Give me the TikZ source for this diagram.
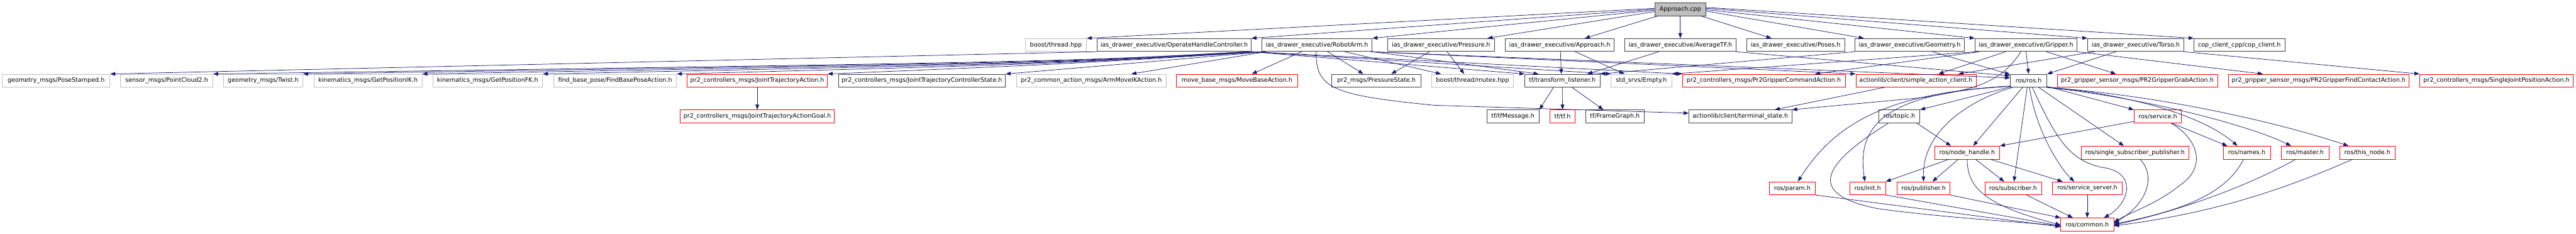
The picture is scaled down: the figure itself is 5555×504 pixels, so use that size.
\documentclass[tikz,border=0pt]{standalone}
\usepackage{fontspec}
\setmainfont{DejaVu Sans}
\usetikzlibrary{arrows.meta}
\definecolor{edgec}{HTML}{191970}
\definecolor{lgray}{HTML}{BFBFBF}
\definecolor{dgray}{HTML}{404040}
\definecolor{rd}{HTML}{FF0000}
\newcommand\fnt{\fontsize{13}{15}\selectfont}
\tikzset{
  nd/.style={draw, fill=white, minimum height=28pt, inner sep=0pt, font=\fnt, line width=1pt},
  gnode/.style={nd, draw=lgray},
  bnode/.style={nd, draw=dgray},
  rnode/.style={nd, draw=rd},
  e/.style={draw=edgec, line width=1pt, -{Triangle[length=11pt,width=8pt]}},
}
\begin{document}
\begin{tikzpicture}[x=1pt,y=-1pt]
\useasboundingbox (0,0) rectangle (5555,504);
% row 0
\node[bnode, fill=lgray, minimum width=111pt] (ac) at (3623.5,20) {Approach.cpp};
% row 1
\node[gnode, minimum width=132pt] (bth) at (2277,97) {boost/thread.hpp};
\node[bnode, minimum width=332pt] (ohc) at (2532,97) {ias\_drawer\_executive/OperateHandleController.h};
\node[bnode, minimum width=238pt] (ra) at (2840,97) {ias\_drawer\_executive/RobotArm.h};
\node[bnode, minimum width=231pt] (pr) at (3107.5,97) {ias\_drawer\_executive/Pressure.h};
\node[bnode, minimum width=235pt] (aph) at (3363.5,97) {ias\_drawer\_executive/Approach.h};
\node[bnode, minimum width=239pt] (atf) at (3623.5,97) {ias\_drawer\_executive/AverageTF.h};
\node[bnode, minimum width=212pt] (pos) at (3872,97) {ias\_drawer\_executive/Poses.h};
\node[bnode, minimum width=236pt] (geo) at (4118,97) {ias\_drawer\_executive/Geometry.h};
\node[bnode, minimum width=220pt] (gri) at (4369,97) {ias\_drawer\_executive/Gripper.h};
\node[bnode, minimum width=207pt] (tor) at (4605.5,97) {ias\_drawer\_executive/Torso.h};
\node[bnode, minimum width=196pt] (cop) at (4829,97) {cop\_client\_cpp/cop\_client.h};
% row 2
\node[gnode, minimum width=232pt] (ps) at (121,174) {geometry\_msgs/PoseStamped.h};
\node[gnode, minimum width=199pt] (pc) at (359.5,174) {sensor\_msgs/PointCloud2.h};
\node[gnode, minimum width=171pt] (tw) at (567.5,174) {geometry\_msgs/Twist.h};
\node[gnode, minimum width=233pt] (ik) at (793.5,174) {kinematics\_msgs/GetPositionIK.h};
\node[gnode, minimum width=237pt] (fk) at (1051.5,174) {kinematics\_msgs/GetPositionFK.h};
\node[gnode, minimum width=265pt] (fbp) at (1326.5,174) {find\_base\_pose/FindBasePoseAction.h};
\node[rnode, minimum width=302pt] (jta) at (1633,174) {pr2\_controllers\_msgs/JointTrajectoryAction.h};
\node[bnode, minimum width=360pt] (jtcs) at (1988,174) {pr2\_controllers\_msgs/JointTrajectoryControllerState.h};
\node[gnode, minimum width=323pt] (amik) at (2353.5,174) {pr2\_common\_action\_msgs/ArmMoveIKAction.h};
\node[rnode, minimum width=261pt] (mba) at (2667.5,174) {move\_base\_msgs/MoveBaseAction.h};
\node[bnode, minimum width=192pt] (pst) at (2968,174) {pr2\_msgs/PressureState.h};
\node[gnode, minimum width=177pt] (mtx) at (3175.5,174) {boost/thread/mutex.hpp};
\node[bnode, minimum width=162pt] (tfl) at (3369,174) {tf/transform\_listener.h};
\node[gnode, minimum width=131pt] (emp) at (3539.5,174) {std\_srvs/Empty.h};
\node[rnode, minimum width=351pt] (gca) at (3803.5,174) {pr2\_controllers\_msgs/Pr2GripperCommandAction.h};
\node[rnode, minimum width=259pt] (sac) at (4131.5,174) {actionlib/client/simple\_action\_client.h};
\node[bnode, minimum width=79pt] (ros) at (4374.5,174) {ros/ros.h};
\node[rnode, minimum width=346pt] (gga) at (4609,174) {pr2\_gripper\_sensor\_msgs/PR2GripperGrabAction.h};
\node[rnode, minimum width=390pt] (gfc) at (5000,174) {pr2\_gripper\_sensor\_msgs/PR2GripperFindContactAction.h};
\node[rnode, minimum width=331pt] (sjp) at (5383.5,174) {pr2\_controllers\_msgs/SingleJointPositionAction.h};
% row 3
\node[rnode, minimum width=332pt] (jtag) at (1633,251) {pr2\_controllers\_msgs/JointTrajectoryActionGoal.h};
\node[bnode, minimum width=113pt] (tfm) at (3262.5,251) {tf/tfMessage.h};
\node[rnode, minimum width=55pt] (tft) at (3369.5,251) {tf/tf.h};
\node[bnode, minimum width=127pt] (fg) at (3482.5,251) {tf/FrameGraph.h};
\node[bnode, minimum width=222pt] (ts) at (3753,251) {actionlib/client/terminal\_state.h};
\node[bnode, minimum width=89pt] (top) at (4095.5,251) {ros/topic.h};
\node[rnode, minimum width=102pt] (srv) at (4653,251) {ros/service.h};
% row 4
\node[rnode, minimum width=140pt] (nh) at (4242,329) {ros/node\_handle.h};
\node[rnode, minimum width=232pt] (ssp) at (4604,329) {ros/single\_subscriber\_publisher.h};
\node[rnode, minimum width=102pt] (nam) at (4845,329) {ros/names.h};
\node[rnode, minimum width=103pt] (mas) at (4970.5,329) {ros/master.h};
\node[rnode, minimum width=120pt] (thn) at (5105,329) {ros/this\_node.h};
% row 5
\node[rnode, minimum width=100pt] (par) at (3865,406) {ros/param.h};
\node[rnode, minimum width=77pt] (ini) at (4027.5,406) {ros/init.h};
\node[rnode, minimum width=114pt] (pub) at (4148,406) {ros/publisher.h};
\node[rnode, minimum width=122pt] (sub) at (4341,406) {ros/subscriber.h};
\node[rnode, minimum width=150pt] (ssv) at (4501,406) {ros/service\_server.h};
% row 6
\node[rnode, minimum width=114pt] (com) at (4501,484) {ros/common.h};

% ---- edges from Approach.cpp
\draw[e] ([yshift=2pt]ac.west) -- (bth.north east);
\draw[e] ([yshift=0pt]ac.west) -- (ohc.north east);
\draw[e] ([yshift=-2pt]ac.west) -- (ra.north east);
\draw[e] ([yshift=-5pt]ac.west) -- ([xshift=-16pt]pr.north east);
\draw[e] ([xshift=7pt]ac.south west) -- ([xshift=-64pt]aph.north east);
\draw[e] (ac.south) -- (atf.north);
\draw[e] ([xshift=-11pt]ac.south east) -- ([xshift=-52pt]pos.north);
\draw[e] ([yshift=-4pt]ac.east) -- ([xshift=20pt]geo.north west);
\draw[e] ([yshift=-1pt]ac.east) -- (gri.north west);
\draw[e] ([yshift=2pt]ac.east) -- (tor.north west);
\draw[e] ([yshift=4pt]ac.east) -- (cop.north west);

% ---- row 1 -> row 2 (left fan)
\draw[e] (ohc.south west) -- (ps.north east);
\draw[e] ([xshift=-8pt]ohc.south east) .. controls (2300,133) .. (pc.north east);
\draw[e] ([xshift=-5pt]ohc.south east) .. controls (2300,134) .. (tw.north east);
\draw[e] ([xshift=2pt]ra.south west) .. controls (2300,135) .. (ik.north east);
\draw[e] ([xshift=4pt]ra.south west) .. controls (2300,136) .. (fk.north east);
\draw[e] ([xshift=-3pt]ohc.south east) .. controls (2300,137) .. (fbp.north east);
\draw[e] ([xshift=6pt]ra.south west) .. controls (2300,138) .. (jta.north east);
\draw[e] ([xshift=8pt]ra.south west) .. controls (2400,140) .. (jtcs.north east);
\draw[e] ([xshift=10pt]ra.south west) -- ([xshift=86pt]amik.north);
\draw[e] ([xshift=-33pt]ra.south) -- ([xshift=32pt]mba.north);
\draw[e] ([xshift=23pt]ra.south) -- ([xshift=-28pt]pst.north);
\draw[e] ([xshift=-25pt]pr.south) -- ([xshift=32pt]pst.north);
\draw[e] ([xshift=60pt]ra.south) -- ([xshift=-68pt]mtx.north);
\draw[e] ([xshift=13pt]pr.south) -- ([xshift=-18pt]mtx.north);
% ---- row 1 -> row 2 (middle)
\draw[e] ([xshift=-2pt]ohc.south east) -- (tfl.north west);
\draw[e] (ra.south east) -- ([xshift=-51pt]tfl.north);
\draw[e] ([xshift=1.5pt]aph.south) -- ([xshift=-2pt]tfl.north);
\draw[e] ([xshift=-46.5pt]atf.south) -- ([xshift=54pt]tfl.north);
\draw[e] (geo.south west) -- (tfl.north east);
\draw[e] (ohc.south east) -- (emp.north west);
\draw[e] ([xshift=33.5pt]aph.south) -- ([xshift=-36.5pt]emp.north);
\draw[e] ([xshift=4pt]gri.south west) -- (emp.north east);
\draw[e] ([xshift=1pt]ohc.south east) -- (gca.north west);
\draw[e] ([xshift=10pt]gri.south west) -- ([xshift=110pt]gca.north);
\draw[e] ([xshift=-2pt]ra.south east) -- (sac.north west);
\draw[e] ([xshift=-44pt]gri.south) -- ([xshift=48.5pt]sac.north);
\draw[e] ([xshift=15pt]tor.south west) -- ([xshift=91.5pt]sac.north);
\draw[e] (atf.south east) -- ([yshift=-4pt]ros.north west);
\draw[e] ([xshift=49pt]geo.south) -- ([yshift=-1pt]ros.north west);
\draw[e] ([xshift=-4pt]ra.south east) -- ([yshift=6pt]ros.west);
\draw[e] (gri.south) -- (ros.north);
\draw[e] ([xshift=-42.5pt]tor.south) -- (ros.north east);
\draw[e] ([xshift=44pt]gri.south) -- ([xshift=-46pt]gga.north);
\draw[e] (gri.south east) -- ([xshift=-120pt]gfc.north);
\draw[e] (tor.south east) -- (sjp.north west);
\draw[e] (jta.south) -- (jtag.north);
% curves to terminal_state
\draw[e] ([xshift=-2pt]ra.south) .. controls (2838,190) and (2870,205) .. (3093,227) -- ([yshift=7pt]ts.west);
\draw[e] ([xshift=-11pt]gri.south) .. controls (4310,185) and (4250,192) .. (4150,210) -- (ts.north east);
\draw[e] ([xshift=-68.5pt]sac.south) -- ([xshift=74pt]ts.north);

% ---- tf
\draw[e] ([xshift=-19pt]tfl.south) -- (tfm.north east);
\draw[e] (tfl.south) -- (tft.north);
\draw[e] ([xshift=21pt]tfl.south) -- ([xshift=-25pt]fg.north);

% ---- ros.h
\draw[e] ([yshift=3pt]ros.south west) .. controls (4080,200) and (3960,260) .. ([xshift=12pt]par.north);
\draw[e] ([yshift=2pt]ros.south west) .. controls (4050,200) and (4005,280) .. ([xshift=-6pt]ini.north);
\draw[e] ([yshift=1pt]ros.south west) -- (top.north east);
\draw[e] ([xshift=5pt]ros.south west) .. controls (4250,215) and (4145,280) .. (pub.north);
\draw[e] ([xshift=27pt]ros.south west) -- ([xshift=13pt]nh.north);
\draw[e] ([xshift=37pt]ros.south west) -- ([xshift=2pt]sub.north);
\draw[e] ([xshift=42pt]ros.south west) .. controls (4390,280) and (4440,360) .. ([xshift=-28pt]ssv.north);
\draw[e] ([xshift=48pt]ros.south west) .. controls (4430,290) and (4460,350) .. (4540,362) .. controls (4610,375) and (4590,440) .. ([xshift=36pt]com.north);
\draw[e] ([xshift=62pt]ros.south west) -- ([xshift=-24pt]ssp.north);
\draw[e] ([yshift=2pt]ros.south east) -- (srv.north west);
\draw[e] ([yshift=1pt]ros.south east) .. controls (4600,205) and (4750,250) .. ([xshift=-20pt]nam.north);
\draw[e] (ros.south east) .. controls (4620,210) and (4850,270) .. ([xshift=-30pt]mas.north);
\draw[e] ([xshift=-1pt]ros.south east) .. controls (4650,205) and (4900,260) .. ([xshift=20pt]thn.north west);

% ---- lower ros
\draw[e] ([xshift=-7pt]top.south east) -- ([xshift=-35pt]nh.north);
\draw[e] ([xshift=-23.5pt]top.south) .. controls (3920,360) and (3900,420) .. (4050,450) .. controls (4200,470) and (4350,478) .. ([yshift=-3pt]com.west);
\draw[e] ([yshift=-11pt]srv.west) -- (nh.north east);
\draw[e] ([xshift=30pt]srv.south) -- ([xshift=-42pt]nam.north);
\draw[e] ([xshift=29pt]srv.south) .. controls (4740,300) and (4760,360) .. (4700,400) .. controls (4650,440) and (4600,455) .. ([yshift=5pt]com.east);
\draw[e] ([xshift=-19pt]nh.south) -- ([xshift=19pt]pub.north);
\draw[e] ([xshift=18pt]nh.south) -- ([xshift=-19pt]sub.north);
\draw[e] ([xshift=50pt]nh.south) -- ([xshift=-53pt]ssv.north);
\draw[e] ([xshift=-39pt]nh.south) -- (ini.north east);
\draw[e] (nh.south) .. controls (4243,400) and (4270,440) .. ([yshift=-1pt]com.west);
\draw[e] ([xshift=11pt]ssp.south) .. controls (4650,380) and (4630,440) .. ([yshift=3pt]com.east);
\draw[e] ([xshift=-7pt]nam.south) .. controls (4800,420) and (4700,455) .. ([yshift=1pt]com.east);
\draw[e] ([xshift=-20pt]mas.south) .. controls (4850,400) and (4700,455) .. ([yshift=-1pt]com.east);
\draw[e] ([xshift=-32pt]thn.south) .. controls (4900,420) and (4750,462) .. ([yshift=-3pt]com.east);
\draw[e] (par.south east) -- ([yshift=-5pt]com.west);
\draw[e] (ini.south east) -- ([yshift=-3pt]com.west);
\draw[e] (pub.south east) -- ([yshift=0pt]com.north west);
\draw[e] ([xshift=29pt]sub.south) -- ([xshift=-31pt]com.north);
\draw[e] (ssv.south) -- (com.north);
\end{tikzpicture}
\end{document}
